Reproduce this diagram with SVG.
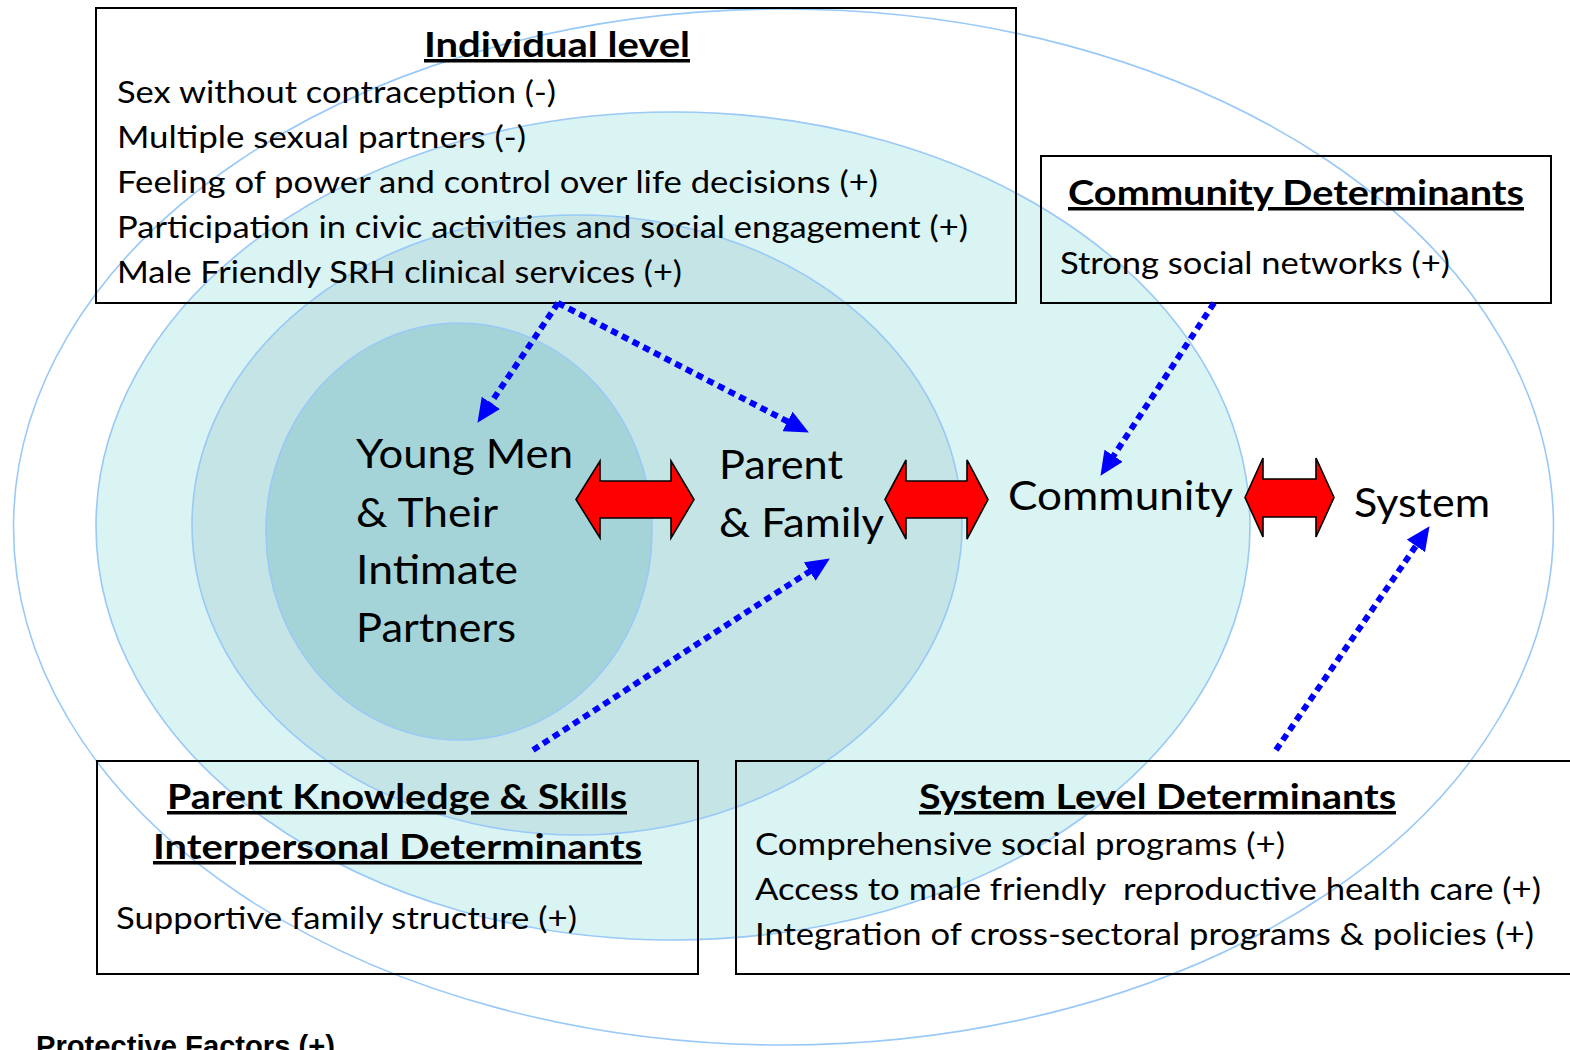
<svg xmlns="http://www.w3.org/2000/svg" width="1570" height="1050" viewBox="0 0 1570 1050">
<defs>
<style>
.ring{stroke:#99C9F7;stroke-width:1.6}
.box{fill:none;stroke:#000;stroke-width:2}
.t{font-family:Lato,'Open Sans','Liberation Sans',sans-serif;fill:#000}
.title{font-size:35px;font-weight:bold;text-decoration:underline}
.body{font-size:31px}
.lbl{font-size:40px}
.dash{fill:none;stroke:#0000FF;stroke-width:6;stroke-dasharray:7 5;marker-end:url(#head)}
.dbl{fill:#FF0000;stroke:#000;stroke-width:1.6;stroke-linejoin:miter}
</style>
<marker id="head" markerUnits="userSpaceOnUse" viewBox="0 0 24 22" markerWidth="24" markerHeight="22" refX="1" refY="11" orient="auto">
<path d="M0,0 L24,11 L0,22 z" fill="#0000FF"/>
</marker>
</defs>
<rect width="1570" height="1050" fill="#fff"/>
<g id="rings">
<ellipse id="ring-system" class="ring" cx="783.5" cy="527" rx="770" ry="518" fill="#fff"/>
<ellipse id="ring-community" class="ring" cx="673" cy="526" rx="577" ry="414" fill="#DAF3F3"/>
<ellipse id="ring-family" class="ring" cx="577" cy="525" rx="385" ry="310" fill="#C4E4E6"/>
<ellipse id="ring-individual" class="ring" cx="459" cy="531.5" rx="193" ry="208.5" fill="#A4D4D8"/>
</g>
<g id="individual-level">
<rect class="box" x="96" y="8" width="920" height="295"/>
<text class="t title" x="424" y="57" textLength="266" lengthAdjust="spacingAndGlyphs">Individual level</text>
<text class="t body" x="117" y="103" textLength="439" lengthAdjust="spacingAndGlyphs">Sex without contraception (-)</text>
<text class="t body" x="117" y="148" textLength="409" lengthAdjust="spacingAndGlyphs">Multiple sexual partners (-)</text>
<text class="t body" x="117" y="193" textLength="761" lengthAdjust="spacingAndGlyphs">Feeling of power and control over life decisions (+)</text>
<text class="t body" x="117" y="238" textLength="851" lengthAdjust="spacingAndGlyphs">Participation in civic activities and social engagement (+)</text>
<text class="t body" x="117" y="283" textLength="565" lengthAdjust="spacingAndGlyphs">Male Friendly SRH clinical services (+)</text>
</g>
<g id="community-determinants">
<rect class="box" x="1041" y="156" width="510" height="147"/>
<text class="t title" x="1068" y="205" textLength="456" lengthAdjust="spacingAndGlyphs">Community Determinants</text>
<text class="t body" x="1060" y="274" textLength="390" lengthAdjust="spacingAndGlyphs">Strong social networks (+)</text>
</g>
<g id="parent-determinants">
<rect class="box" x="97" y="761" width="601" height="213"/>
<text class="t title" x="167" y="809" textLength="460" lengthAdjust="spacingAndGlyphs">Parent Knowledge &amp; Skills</text>
<text class="t title" x="153" y="859" textLength="489" lengthAdjust="spacingAndGlyphs">Interpersonal Determinants</text>
<text class="t body" x="116" y="929" textLength="461" lengthAdjust="spacingAndGlyphs">Supportive family structure (+)</text>
</g>
<g id="system-determinants">
<rect class="box" x="736" y="761" width="850" height="213"/>
<text class="t title" x="919" y="809" textLength="477" lengthAdjust="spacingAndGlyphs">System Level Determinants</text>
<text class="t body" x="755" y="855" textLength="530" lengthAdjust="spacingAndGlyphs">Comprehensive social programs (+)</text>
<text class="t body" x="755" y="900" textLength="786" lengthAdjust="spacingAndGlyphs" xml:space="preserve">Access to male friendly  reproductive health care (+)</text>
<text class="t body" x="755" y="945" textLength="779" lengthAdjust="spacingAndGlyphs">Integration of cross-sectoral programs &amp; policies (+)</text>
</g>
<g id="node-young-men">
<text class="t lbl" x="356" y="468" textLength="217" lengthAdjust="spacingAndGlyphs">Young Men</text>
<text class="t lbl" x="356" y="527" textLength="142" lengthAdjust="spacingAndGlyphs">&amp; Their</text>
<text class="t lbl" x="356" y="584" textLength="162" lengthAdjust="spacingAndGlyphs">Intimate</text>
<text class="t lbl" x="356" y="642" textLength="160" lengthAdjust="spacingAndGlyphs">Partners</text>
</g>
<g id="node-parent-family">
<text class="t lbl" x="719" y="479" textLength="124" lengthAdjust="spacingAndGlyphs">Parent</text>
<text class="t lbl" x="719" y="537" textLength="165" lengthAdjust="spacingAndGlyphs">&amp; Family</text>
</g>
<g id="node-community">
<text class="t lbl" x="1008" y="510" textLength="225" lengthAdjust="spacingAndGlyphs">Community</text>
</g>
<g id="node-system">
<text class="t lbl" x="1354" y="517" textLength="136" lengthAdjust="spacingAndGlyphs">System</text>
</g>
<g id="connectors">
<polygon class="dbl" points="576,499.5 600,461 600,481 671,481 671,461 694,499.5 671,538 671,518 600,518 600,538"/>
<polygon class="dbl" points="885,499.5 906,460 906,481 967,481 967,460 988,499.5 967,539 967,518 906,518 906,539"/>
<polygon class="dbl" points="1245,497.5 1263,458 1263,479 1316,479 1316,458 1334,497.5 1316,537 1316,517 1263,517 1263,537"/>
<path class="dash" d="M558,303 L490.3,403.7"/>
<path class="dash" d="M558,303 L788.4,421.9"/>
<path class="dash" d="M533,750 L810.5,570.9"/>
<path class="dash" d="M1214,303 L1113.1,456.6"/>
<path class="dash" d="M1276,750 L1416.5,545.1"/>
</g>
<text x="36" y="1056" font-family="'Liberation Sans',Arial,sans-serif" font-weight="bold" font-size="29" textLength="299" lengthAdjust="spacingAndGlyphs">Protective Factors (+)</text>
</svg>
